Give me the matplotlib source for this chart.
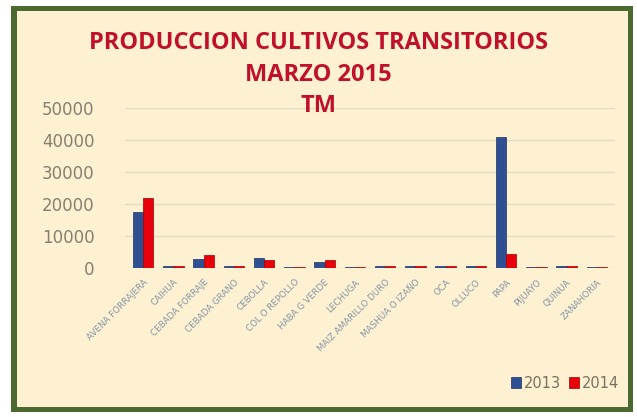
import numpy as np
import matplotlib
matplotlib.use("Agg")
import matplotlib.pyplot as plt
from matplotlib.patches import Rectangle

# datos (TM)
cultivos = ["AVENA FORRAJERA", "CAIHUA", "CEBADA FORRAJE", "CEBADA GRANO",
            "CEBOLLA", "COL O REPOLLO", "HABA G VERDE", "LECHUGA",
            "MAIZ AMARILLO DURO", "MASHUA O IZAÑO", "OCA", "OLLUCO", "PAPA",
            "PIJUAYO", "QUINUA", "ZANAHORIA"]
prod_2013 = [17500, 500, 2800, 500, 3000, 400, 2000, 400,
             600, 500, 500, 500, 41000, 400, 500, 400]
prod_2014 = [22000, 600, 4200, 500, 2500, 400, 2600, 400,
             700, 500, 600, 500, 4500, 400, 700, 400]
y_ticks = [0, 10000, 20000, 30000, 40000, 50000]

bg = "#fdf1d2"
fig = plt.figure(figsize=(6.37, 4.17), dpi=100)
fig.patch.set_facecolor("white")
fig.patches.append(Rectangle((11/637, 5/417), 622/637, 406/417, transform=fig.transFigure,
                             facecolor="#4a6a30", edgecolor="none", zorder=-3))
fig.patches.append(Rectangle((17/637, 10/417), 611/637, 396/417, transform=fig.transFigure,
                             facecolor=bg, edgecolor="none", zorder=-2))

ax = fig.add_axes([125/637, 149/417, 490/637, 160/417])
ax.set_facecolor("none")

x = np.arange(len(cultivos))
w = 0.34
ax.bar(x - w/2, prod_2013, w, color="#2f4f93", edgecolor="#1e3060", linewidth=0.5, label="2013", zorder=3)
ax.bar(x + w/2, prod_2014, w, color="#e8000b", edgecolor="#a00000", linewidth=0.5, label="2014", zorder=3)

ax.set_ylim(0, 50000)
ax.set_xlim(-0.6, len(cultivos) - 0.4)
ax.set_yticks(y_ticks)
ax.set_yticklabels([str(v) for v in y_ticks], fontsize=12, color="#85806f")
ax.grid(axis="y", color="#e6dcc0", linewidth=1, zorder=0)
ax.set_xticks(x)
ax.set_xticklabels(cultivos, rotation=45, ha="right", rotation_mode="anchor",
                   fontsize=6.3, color="#8595a5")
ax.tick_params(length=0, pad=7)
ax.tick_params(axis="y", pad=22)
for s in ax.spines.values():
    s.set_visible(False)

tcolor = "#c0102a"
fig.text(0.50, 1 - 43/417, "PRODUCCION CULTIVOS TRANSITORIOS", ha="center", va="center",
         fontsize=17, fontweight="bold", color=tcolor, family="Open Sans")
fig.text(0.50, 1 - 75/417, "MARZO 2015", ha="center", va="center",
         fontsize=17, fontweight="bold", color=tcolor, family="Open Sans")
fig.text(0.50, 1 - 106/417, "TM", ha="center", va="center",
         fontsize=17, fontweight="bold", color=tcolor, family="Open Sans")

leg = fig.legend(loc="center right", bbox_to_anchor=(632/637, 1 - 383/417), ncol=2, frameon=False,
                 fontsize=10.5, handlelength=0.7, handleheight=0.7, handletextpad=0.2, columnspacing=0.5)
for t in leg.get_texts():
    t.set_color("#7a7060")

fig.savefig("out.png", dpi=100, facecolor=fig.get_facecolor())
